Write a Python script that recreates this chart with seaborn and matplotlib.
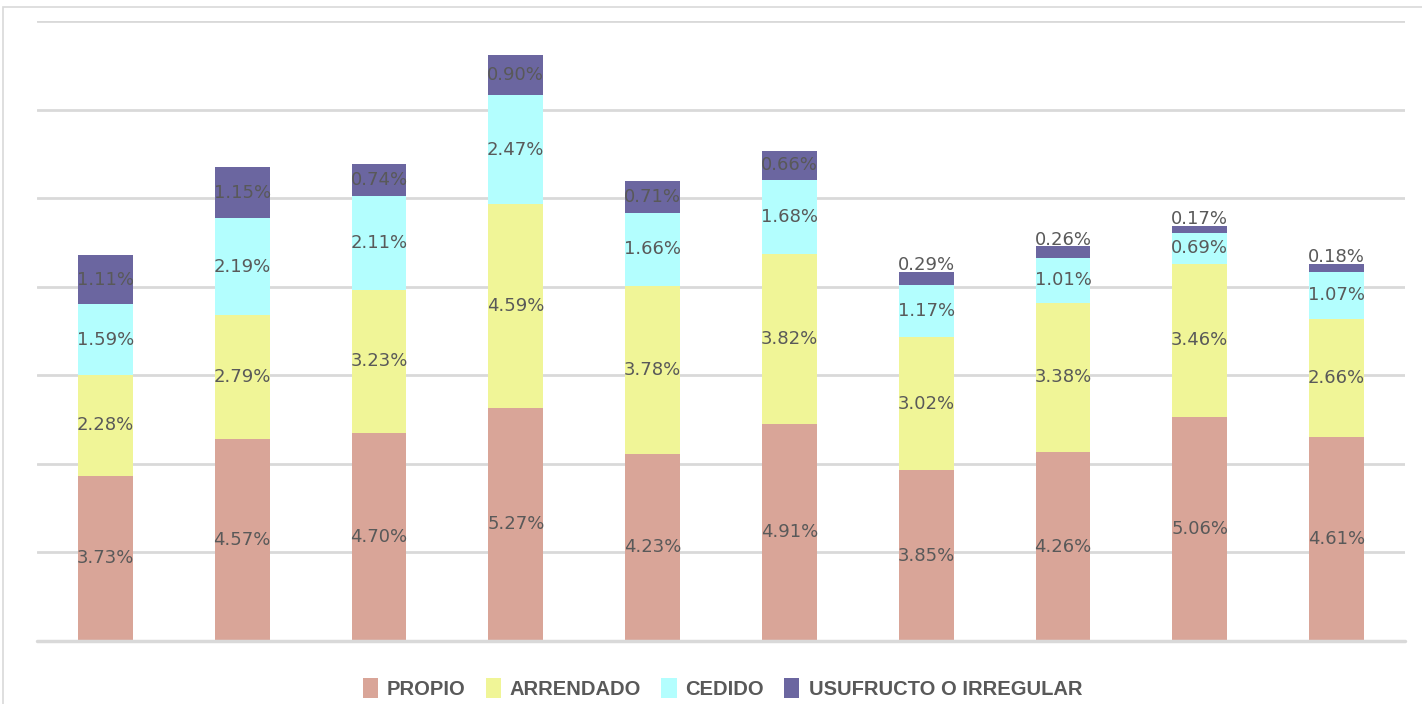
import matplotlib
matplotlib.use("Agg")
import matplotlib.pyplot as plt
from matplotlib.patches import Patch, Rectangle
import numpy as np
import pandas as pd
import seaborn as sns

# Share of households (%) by tenure type, per group
groups = ["G1", "G2", "G3", "G4", "G5", "G6", "G7", "G8", "G9", "G10"]
propio = [3.73, 4.57, 4.70, 5.27, 4.23, 4.91, 3.85, 4.26, 5.06, 4.61]
arrendado = [2.28, 2.79, 3.23, 4.59, 3.78, 3.82, 3.02, 3.38, 3.46, 2.66]
cedido = [1.59, 2.19, 2.11, 2.47, 1.66, 1.68, 1.17, 1.01, 0.69, 1.07]
usufructo = [1.11, 1.15, 0.74, 0.90, 0.71, 0.66, 0.29, 0.26, 0.17, 0.18]

series_names = ["PROPIO", "ARRENDADO", "CEDIDO", "USUFRUCTO O IRREGULAR"]
series_values = [propio, arrendado, cedido, usufructo]
colors = ["#d9a598", "#f0f597", "#b3fefe", "#6b66a0"]

sns.set_theme(style="white")
plt.rcParams["font.family"] = ["DejaVu Sans"]

fig = plt.figure(figsize=(14.22, 7.04), dpi=100)
ax = fig.add_axes([0.026, 0.0895, 0.962, 0.8807])

vals = np.array(series_values)
cum = np.cumsum(vals, axis=0)

# stacked bars: draw cumulative totals from the top layer down
for i in range(len(series_names) - 1, -1, -1):
    df = pd.DataFrame({"grupo": groups, "valor": cum[i]})
    sns.barplot(data=df, x="grupo", y="valor", color=colors[i], width=0.4,
                saturation=1, errorbar=None, ax=ax, zorder=3,
                linewidth=0, edgecolor="none")

# value labels
for i in range(len(series_names)):
    for j, g in enumerate(groups):
        v = vals[i, j]
        top = cum[i, j]
        bottom = top - v
        txt = f"{v:.2f}%"
        if v < 0.5:
            ax.text(j, top - 0.05, txt, ha="center", va="bottom", fontsize=13,
                    color="#595959", zorder=5)
        else:
            ax.text(j, (top + bottom) / 2, txt, ha="center", va="center",
                    fontsize=13, color="#595959", zorder=5)

ax.set_ylim(0, 14)
ax.set_xlim(-0.5, len(groups) - 0.5)
ax.set_yticks(np.arange(0, 15, 2))
ax.yaxis.grid(True, color="#d9d9d9", linewidth=2, zorder=0)
ax.set_axisbelow(True)
ax.set_yticklabels([])
ax.set_xticklabels([])
ax.tick_params(left=False, bottom=False)
ax.set_xlabel("")
ax.set_ylabel("")
for s in ax.spines.values():
    s.set_visible(False)
ax.axhline(0, color="#d9d9d9", linewidth=2.5, zorder=4, clip_on=False)

# chart frame
fig.patches.append(Rectangle((3 / 1422, -0.1), 1.2, 1.09, transform=fig.transFigure,
                             fill=False, edgecolor="#d9d9d9", linewidth=1.2))

handles = [Patch(facecolor=c, edgecolor="none") for c in colors]
leg = fig.legend(handles, series_names, loc="center", bbox_to_anchor=(0.508, 0.022),
                 ncol=4, frameon=False, handlelength=0.75, handleheight=1.1,
                 handletextpad=0.45, columnspacing=1.0,
                 prop={"family": "Liberation Sans", "weight": "bold", "size": 14.5})
for t in leg.get_texts():
    t.set_color("#595959")

fig.savefig("out.png", dpi=100)
